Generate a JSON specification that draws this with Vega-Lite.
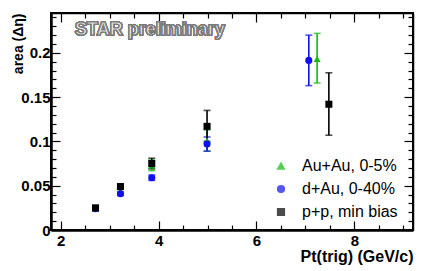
{
  "$schema": "https://vega.github.io/schema/vega-lite/v6.json",
  "width": 362,
  "height": 217,
  "autosize": {"type": "none"},
  "padding": {"left": 51, "top": 13, "right": 23, "bottom": 41},
  "background": "white",
  "config": {
    "view": {"stroke": "black", "strokeWidth": 2},
    "font": "Liberation Sans",
    "legend": {
      "orient": "none", "legendX": 222, "legendY": 145, "title": null,
      "labelFont": "Liberation Sans", "labelFontSize": 16, "labelColor": "black",
      "labelOffset": 13, "rowPadding": 7, "symbolSize": 45, "padding": 0
    }
  },
  "data": {
    "values": [
      {"series": "Au+Au, 0-5%", "pt": 2.71, "area": 0.024, "lo": 0.022, "hi": 0.026},
      {"series": "Au+Au, 0-5%", "pt": 3.22, "area": 0.044, "lo": 0.041, "hi": 0.047},
      {"series": "Au+Au, 0-5%", "pt": 3.86, "area": 0.073, "lo": 0.067, "hi": 0.079},
      {"series": "Au+Au, 0-5%", "pt": 4.99, "area": 0.101, "lo": 0.089, "hi": 0.113},
      {"series": "Au+Au, 0-5%", "pt": 7.24, "area": 0.193, "lo": 0.166, "hi": 0.222},
      {"series": "d+Au, 0-40%", "pt": 2.71, "area": 0.024, "lo": 0.022, "hi": 0.026},
      {"series": "d+Au, 0-40%", "pt": 3.22, "area": 0.041, "lo": 0.039, "hi": 0.043},
      {"series": "d+Au, 0-40%", "pt": 3.86, "area": 0.059, "lo": 0.056, "hi": 0.062},
      {"series": "d+Au, 0-40%", "pt": 4.99, "area": 0.097, "lo": 0.089, "hi": 0.105},
      {"series": "d+Au, 0-40%", "pt": 7.07, "area": 0.1915, "lo": 0.163, "hi": 0.220},
      {"series": "p+p, min bias", "pt": 2.71, "area": 0.025, "lo": 0.023, "hi": 0.027},
      {"series": "p+p, min bias", "pt": 3.22, "area": 0.049, "lo": 0.046, "hi": 0.052},
      {"series": "p+p, min bias", "pt": 3.86, "area": 0.075, "lo": 0.069, "hi": 0.081},
      {"series": "p+p, min bias", "pt": 4.99, "area": 0.117, "lo": 0.100, "hi": 0.135},
      {"series": "p+p, min bias", "pt": 7.48, "area": 0.142, "lo": 0.107, "hi": 0.1775}
    ]
  },
  "resolve": {"axis": {"x": "independent", "y": "independent"}},
  "layer": [
    {
      "mark": {"type": "errorbar", "ticks": {"size": 7}, "thickness": 1.6},
      "encoding": {
        "x": {
          "field": "pt", "type": "quantitative",
          "scale": {"domain": [1.8, 9.2], "nice": false, "zero": false},
          "axis": {
            "orient": "bottom",
            "title": "Pt(trig) (GeV/c)",
            "titleFont": "Liberation Sans", "titleFontSize": 16, "titleFontWeight": "bold",
            "titleAnchor": "end", "titleColor": "black", "titlePadding": -4,
            "values": [2, 2.5, 3, 3.5, 4, 4.5, 5, 5.5, 6, 6.5, 7, 7.5, 8, 8.5, 9],
            "labelExpr": "datum.value % 2 === 0 ? format(datum.value, '~g') : ''",
            "labelFont": "Liberation Sans", "labelFontSize": 15, "labelFontWeight": "bold", "labelColor": "black",
            "labelPadding": 12,
            "tickSize": {"condition": {"test": "datum.value % 2 === 0", "value": -9}, "value": -5},
            "tickColor": "black", "tickWidth": 1.2,
            "domainColor": "black", "domainWidth": 2.5,
            "grid": false, "labelFlush": false, "labelOverlap": false
          }
        },
        "y": {
          "field": "lo", "type": "quantitative",
          "scale": {"domain": [0, 0.245], "nice": false},
          "axis": {
            "orient": "left",
            "title": "area (Δη)",
            "titleFont": "Liberation Sans", "titleFontSize": 14, "titleFontWeight": "bold",
            "titleAnchor": "end", "titleColor": "black", "titlePadding": -5,
            "values": [0, 0.01, 0.02, 0.03, 0.04, 0.05, 0.06, 0.07, 0.08, 0.09, 0.1, 0.11, 0.12, 0.13, 0.14, 0.15, 0.16, 0.17, 0.18, 0.19, 0.2, 0.21, 0.22, 0.23, 0.24],
            "labelExpr": "abs(datum.value*20 - round(datum.value*20)) < 1e-6 ? format(datum.value, '~g') : ''",
            "labelFont": "Liberation Sans", "labelFontSize": 15, "labelFontWeight": "bold", "labelColor": "black",
            "labelPadding": 10,
            "tickSize": {"condition": {"test": "abs(datum.value*20 - round(datum.value*20)) < 1e-6", "value": -9}, "value": -5},
            "tickColor": "black", "tickWidth": 1.2,
            "domainColor": "black", "domainWidth": 2.5,
            "grid": false, "labelFlush": false, "labelOverlap": false
          }
        },
        "y2": {"field": "hi"},
        "color": {
          "field": "series", "type": "nominal",
          "scale": {"domain": ["Au+Au, 0-5%", "d+Au, 0-40%", "p+p, min bias"], "range": ["#11bb11", "#1010ee", "#000000"]}
        }
      }
    },
    {
      "mark": {"type": "point", "filled": true, "opacity": 1, "size": 50},
      "encoding": {
        "x": {
          "field": "pt", "type": "quantitative",
          "axis": {
            "orient": "top", "title": null, "labels": false,
            "values": [2, 2.5, 3, 3.5, 4, 4.5, 5, 5.5, 6, 6.5, 7, 7.5, 8, 8.5, 9],
            "tickSize": {"condition": {"test": "datum.value % 2 === 0", "value": -9}, "value": -5},
            "tickColor": "black", "tickWidth": 1.2,
            "domainColor": "black", "domainWidth": 1.5, "grid": false
          }
        },
        "y": {
          "field": "area", "type": "quantitative",
          "axis": {
            "orient": "right", "title": null, "labels": false,
            "values": [0, 0.01, 0.02, 0.03, 0.04, 0.05, 0.06, 0.07, 0.08, 0.09, 0.1, 0.11, 0.12, 0.13, 0.14, 0.15, 0.16, 0.17, 0.18, 0.19, 0.2, 0.21, 0.22, 0.23, 0.24],
            "tickSize": {"condition": {"test": "abs(datum.value*20 - round(datum.value*20)) < 1e-6", "value": -9}, "value": -5},
            "tickColor": "black", "tickWidth": 1.2,
            "domainColor": "black", "domainWidth": 1.5, "grid": false
          }
        },
        "color": {
          "field": "series", "type": "nominal",
          "scale": {"domain": ["Au+Au, 0-5%", "d+Au, 0-40%", "p+p, min bias"], "range": ["#11bb11", "#1010ee", "#000000"]}
        },
        "shape": {
          "field": "series", "type": "nominal",
          "scale": {"domain": ["Au+Au, 0-5%", "d+Au, 0-40%", "p+p, min bias"], "range": ["triangle-up", "circle", "square"]}
        }
      }
    },
    {
      "mark": {"type": "text", "text": "STAR preliminary", "align": "left", "baseline": "middle",
               "font": "Liberation Sans", "fontSize": 18, "fontWeight": "bold",
               "fill": "#f4f4f4", "stroke": "#7a7a7a", "strokeWidth": 1.2},
      "encoding": {
        "x": {"datum": 2.29, "type": "quantitative", "axis": null},
        "y": {"datum": 0.2257, "type": "quantitative", "axis": null}
      }
    }
  ]
}
